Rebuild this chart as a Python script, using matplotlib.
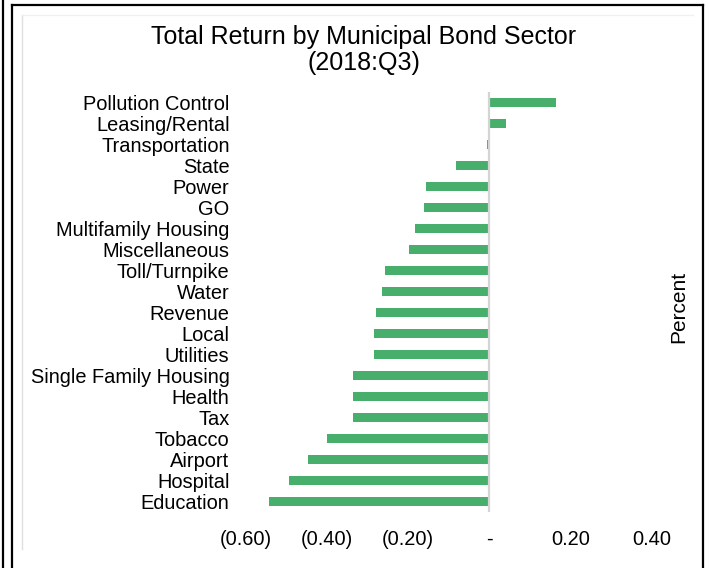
import matplotlib
matplotlib.use("Agg")
import matplotlib.pyplot as plt
from matplotlib.lines import Line2D
from matplotlib.ticker import FixedLocator, FixedFormatter

plt.rcParams['font.family'] = ['Liberation Sans', 'DejaVu Sans']

sectors = [
    "Pollution Control", "Leasing/Rental", "Transportation", "State", "Power",
    "GO", "Multifamily Housing", "Miscellaneous", "Toll/Turnpike", "Water",
    "Revenue", "Local", "Utilities", "Single Family Housing", "Health", "Tax",
    "Tobacco", "Airport", "Hospital", "Education",
]
returns = [
    0.165, 0.042, -0.005, -0.082, -0.156,
    -0.161, -0.184, -0.198, -0.258, -0.263,
    -0.280, -0.285, -0.285, -0.335, -0.335, -0.335,
    -0.400, -0.446, -0.492, -0.542,
]
tick_values = [-0.6, -0.4, -0.2, 0.0, 0.2, 0.4]
tick_labels = ["(0.60)", "(0.40)", "(0.20)", "-", "0.20", "0.40"]

W, H = 709, 568
fig = plt.figure(figsize=(W / 100, H / 100), dpi=100)
fig.patch.set_facecolor("white")

ax = fig.add_axes([245.5 / W, 1 - 512 / H, 406.5 / W, 420 / H])
ypos = list(range(len(sectors)))
ax.barh(ypos, returns, height=0.4, color="#48AE6C", edgecolor="none", zorder=2)
ax.axvline(0, color="#d4d4d4", lw=1.6, zorder=3)
ax.set_xlim(-0.6, 0.4)
ax.set_ylim(len(sectors) - 0.5, -0.5)
ax.set_yticks(ypos)
ax.set_yticklabels(sectors, fontsize=14.4)
ax.xaxis.set_major_locator(FixedLocator(tick_values))
ax.xaxis.set_major_formatter(FixedFormatter(tick_labels))
ax.tick_params(axis="both", length=0, colors="black")
ax.tick_params(axis="x", pad=13, labelsize=14.4)
ax.tick_params(axis="y", pad=11.5)
for s in ax.spines.values():
    s.set_visible(False)
ax.set_facecolor("none")

fig.text(364 / W, 1 - 37 / H, "Total Return by Municipal Bond Sector",
         ha="center", va="center", fontsize=18)
fig.text(364 / W, 1 - 63 / H, "(2018:Q3)", ha="center", va="center", fontsize=18)
fig.text(679 / W, 1 - 307 / H, "Percent", ha="center", va="center",
         rotation=90, fontsize=15)

# outer frame lines
def fline(x0, y0, x1, y1, color="black", lw=1.6):
    fig.add_artist(Line2D([x0 / W, x1 / W], [1 - y0 / H, 1 - y1 / H],
                          color=color, lw=lw, transform=fig.transFigure))

fline(3, 0, 3, H)
fline(12, 5, 12, H)
fline(12, 5, 703, 5)
fline(703, 5, 703, H)
fline(22, 15, 22, 549, color="#e0e0e0", lw=1.0)
fline(22, 15, 693, 15, color="#f0f0f0", lw=1.0)

fig.savefig("out.png", dpi=100)
